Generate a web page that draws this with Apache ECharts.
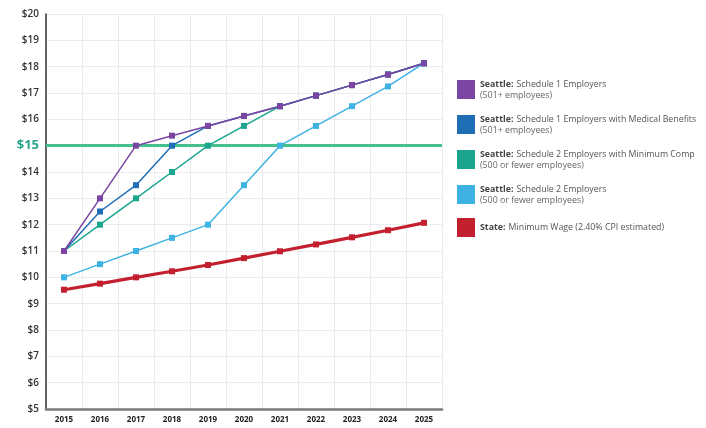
<!DOCTYPE html>
<html>
<head>
<meta charset="utf-8">
<style>
  html, body { margin: 0; padding: 0; background: #fff; }
  #wageChart { width: 706px; height: 428px; }
</style>
<script src="https://cdn.jsdelivr.net/npm/echarts@6/dist/echarts.min.js"></script>
</head>
<body>
<div id="wageChart"></div>
<script>
// 年份
const years = ['2015', '2016', '2017', '2018', '2019', '2020', '2021', '2022', '2023', '2024', '2025']
// 各类最低工资 ($/小时)
const sched1 = [11, 13, 15, 15.38, 15.75, 16.13, 16.5, 16.9, 17.3, 17.7, 18.13]
const sched1Medical = [11, 12.5, 13.5, 15, 15.75, 16.13, 16.5, 16.9, 17.3, 17.7, 18.13]
const sched2MinComp = [11, 12, 13, 14, 15, 15.75, 16.5, 16.9, 17.3, 17.7, 18.13]
const sched2 = [10, 10.5, 11, 11.5, 12, 13.5, 15, 15.75, 16.5, 17.25, 18.13]
const stateMin = [9.53, 9.76, 10, 10.23, 10.47, 10.73, 10.99, 11.25, 11.52, 11.79, 12.07]
const threshold = 15

// 图例文字
const legendRegion = ['Seattle:', 'Seattle:', 'Seattle:', 'Seattle:', 'State:']
const legendTitle = [
  'Schedule 1 Employers',
  'Schedule 1 Employers with Medical Benefits',
  'Schedule 2 Employers with Minimum Comp',
  'Schedule 2 Employers',
  'Minimum Wage (2.40% CPI estimated)'
]
const legendNote = ['(501+ employees)', '(501+ employees)', '(500 or fewer employees)', '(500 or fewer employees)', '']
const colors = ['#7b46a3', '#1f6db5', '#1ba58e', '#3db2e3', '#c3202f']

const seriesData = [sched1, sched1Medical, sched2MinComp, sched2, stateMin]
const names = legendTitle.map((t, i) => legendRegion[i] + ' ' + t)

let myChart = echarts.init(document.getElementById('wageChart'))

let series = seriesData.map((d, i) => {
  let s = {
    name: names[i],
    type: 'line',
    data: d,
    z: 10 - i,
    symbol: 'rect',
    symbolSize: 6,
    color: colors[i],
    lineStyle: { width: i === 4 ? 3.2 : 1.5, color: colors[i] },
    itemStyle: { color: colors[i] },
    emphasis: { disabled: true }
  }
  if (i === 4) {
    // $15 参考线
    s.markLine = {
      silent: true,
      symbol: 'none',
      label: { show: false },
      lineStyle: { color: '#45bf8c', width: 3, type: 'solid' },
      data: [{ yAxis: threshold }],
      z: 1
    }
  }
  return s
})

myChart.setOption({
  animation: false,
  textStyle: { fontFamily: 'Open Sans, Noto Sans, sans-serif' },
  color: colors,
  grid: { left: 46, right: 264, top: 14, bottom: 19 },
  legend: {
    data: names,
    orient: 'vertical',
    left: 457,
    top: 78,
    padding: 0,
    icon: 'rect',
    itemWidth: 18,
    itemHeight: 19,
    itemGap: 13,
    selectedMode: false,
    formatter: function (name) {
      let i = names.indexOf(name)
      let line1 = '{b|' + legendRegion[i] + '} {r|' + legendTitle[i] + '}'
      return legendNote[i] ? line1 + '\n{s|' + legendNote[i] + '}' : line1
    },
    textStyle: {
      rich: {
        b: { fontWeight: 'bold', fontSize: 8.8, color: '#444', lineHeight: 11 },
        r: { fontSize: 8.8, color: '#555', lineHeight: 11 },
        s: { fontSize: 8.8, color: '#666', lineHeight: 11 }
      }
    }
  },
  xAxis: {
    type: 'category',
    data: years,
    boundaryGap: true,
    axisTick: { show: false },
    axisLine: { lineStyle: { color: '#7a7a7a', width: 2.5 } },
    axisLabel: { color: '#222', fontSize: 8, fontWeight: 'bold', margin: 7 },
    splitLine: { show: true, lineStyle: { color: '#ececec', width: 1 } }
  },
  yAxis: {
    type: 'value',
    min: 5,
    max: 20,
    interval: 1,
    axisTick: { show: false },
    axisLine: { show: true, lineStyle: { color: '#333', width: 1.5 } },
    axisLabel: {
      margin: 7,
      color: '#333',
      fontSize: 10,
      fontWeight: 600,
      formatter: function (v) {
        return v === threshold ? '{g|$' + v + '}' : '$' + v
      },
      rich: {
        g: { color: '#2aa68a', fontSize: 13, fontWeight: 'bold' }
      }
    },
    splitLine: { lineStyle: { color: '#ececec', width: 1 } }
  },
  series: series
})
</script>
</body>
</html>
